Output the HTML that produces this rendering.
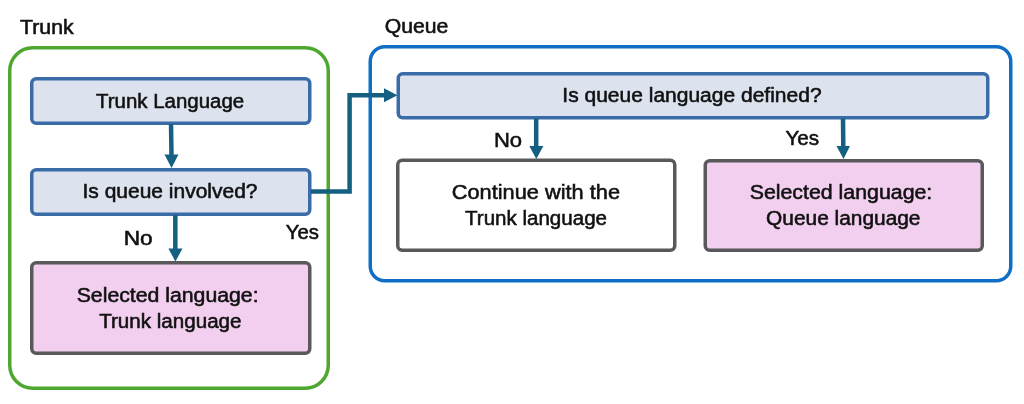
<!DOCTYPE html>
<html><head><meta charset="utf-8"><title>Language selection flow</title>
<style>
html,body{margin:0;padding:0;background:#fff;}
body{width:1024px;height:404px;overflow:hidden;}
svg{display:block;will-change:transform;}
text{font-family:"Liberation Sans",sans-serif;font-size:20px;fill:#111;stroke:#111;stroke-width:0.55px;}
</style></head><body>
<svg width="1024" height="404" viewBox="0 0 1024 404">
<rect width="1024" height="404" fill="#ffffff"/>
<!-- groups -->
<rect x="9.75" y="47.75" width="318.5" height="340.5" rx="23" fill="none" stroke="#4EA72E" stroke-width="3.5"/>
<rect x="370.25" y="46.75" width="640.5" height="234" rx="14.5" fill="none" stroke="#0F6FC6" stroke-width="3.5"/>
<!-- trunk boxes -->
<rect x="31.75" y="78.75" width="278" height="44.5" rx="4.5" fill="#DDE3EE" stroke="#3A6DA8" stroke-width="3.5"/>
<rect x="31.75" y="169.75" width="278" height="44.5" rx="4.5" fill="#DDE3EE" stroke="#3A6DA8" stroke-width="3.5"/>
<rect x="31.75" y="262.75" width="278" height="90.5" rx="4.5" fill="#F2CFEE" stroke="#59585B" stroke-width="3.5"/>
<!-- queue boxes -->
<rect x="398.25" y="73.75" width="589.5" height="44" rx="4.5" fill="#DDE3EE" stroke="#3A6DA8" stroke-width="3.5"/>
<rect x="397.75" y="160.25" width="277" height="90" rx="4.5" fill="#ffffff" stroke="#59585B" stroke-width="3.5"/>
<rect x="705.25" y="160.75" width="277" height="89.5" rx="4.5" fill="#F2CFEE" stroke="#59585B" stroke-width="3.5"/>
<!-- arrows -->
<g stroke="#156082" stroke-width="4.5" fill="none">
<line x1="171" y1="124" x2="171.5" y2="156"/>
<line x1="175.3" y1="215" x2="175.3" y2="250"/>
<polyline points="311,191.5 349.6,191.5 349.6,95.2 386,95.2"/>
<line x1="536.2" y1="118.5" x2="536.2" y2="147.5"/>
<line x1="843" y1="118.5" x2="843.3" y2="147.5"/>
</g>
<g fill="#156082" stroke="none">
<polygon points="164.5,154.5 178.5,154.5 171.5,168"/>
<polygon points="168.4,248.5 182.5,248.5 175.4,261.5"/>
<polygon points="384,88.2 384,102.2 397.4,95.2"/>
<polygon points="529.3,146 543.4,146 536.3,159"/>
<polygon points="836.5,146 850,146 843.5,159"/>
</g>
<!-- labels -->
<text x="20.0" y="34.0" textLength="53.7" lengthAdjust="spacingAndGlyphs">Trunk</text>
<text x="384.7" y="33.0" textLength="63.7" lengthAdjust="spacingAndGlyphs">Queue</text>
<text x="96.0" y="107.8" textLength="148.2" lengthAdjust="spacingAndGlyphs">Trunk Language</text>
<text x="82.5" y="198.2" textLength="175.0" lengthAdjust="spacingAndGlyphs">Is queue involved?</text>
<text x="123.7" y="245.2" textLength="29.0" lengthAdjust="spacingAndGlyphs">No</text>
<text x="285.8" y="239.4" textLength="33.2" lengthAdjust="spacingAndGlyphs">Yes</text>
<text x="76.7" y="301.6" textLength="181.9" lengthAdjust="spacingAndGlyphs">Selected language:</text>
<text x="99.2" y="327.6" textLength="142.3" lengthAdjust="spacingAndGlyphs">Trunk language</text>
<text x="562.3" y="101.6" textLength="259.3" lengthAdjust="spacingAndGlyphs">Is queue language defined?</text>
<text x="493.9" y="147.0" textLength="28.2" lengthAdjust="spacingAndGlyphs">No</text>
<text x="785.4" y="145.1" textLength="33.7" lengthAdjust="spacingAndGlyphs">Yes</text>
<text x="451.8" y="199.0" textLength="168.2" lengthAdjust="spacingAndGlyphs">Continue with the</text>
<text x="465.0" y="225.0" textLength="142.0" lengthAdjust="spacingAndGlyphs">Trunk language</text>
<text x="749.7" y="198.8" textLength="182.6" lengthAdjust="spacingAndGlyphs">Selected language:</text>
<text x="766.1" y="225.1" textLength="154.4" lengthAdjust="spacingAndGlyphs">Queue language</text>
</svg>
</body></html>
